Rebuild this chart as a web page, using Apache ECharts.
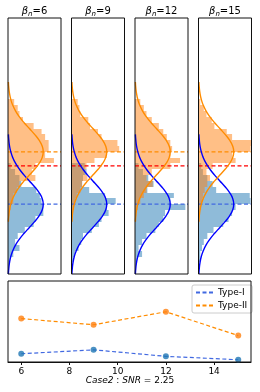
<!DOCTYPE html>
<html><head><meta charset="utf-8">
<script src="https://cdn.jsdelivr.net/npm/echarts@6/dist/echarts.min.js"></script>
<style>html,body{margin:0;padding:0;background:#fff}#c{width:260px;height:392px}</style>
</head><body><div id="c"></div>
<script>
// ---------- data ----------
const betaLabels = ['6', '9', '12', '15'];
// histogram bin edges (top to bottom), 29 bins
const binEdges = [4.5,4.25,4.0,3.75,3.5,3.25,3.0,2.75,2.5,2.25,2.0,1.75,1.5,1.25,1.0,0.75,0.5,0.25,0,-0.25,-0.5,-0.75,-1.0,-1.25,-1.5,-1.75,-2.0,-2.25,-2.5,-2.75];
// alternative (orange) histogram densities per panel
const orange6  = [0.07,0.11,0.13,0.17,0.29,0.38,0.42,0.46,0.46,0.42,0.52,0.31,0.27,0.31,0.13,0.10,0.06,0.06,0.03,0.015,0.01,0,0,0,0,0,0,0,0];
const orange9  = [0.07,0.09,0.10,0.19,0.21,0.30,0.34,0.52,0.54,0.40,0.26,0.17,0.15,0.18,0.12,0.10,0.06,0.04,0.03,0.015,0.01,0,0,0,0,0,0,0,0];
const orange12 = [0.06,0.10,0.13,0.19,0.27,0.32,0.36,0.40,0.42,0.40,0.51,0.40,0.19,0.13,0.20,0.13,0.10,0.06,0.03,0.015,0.01,0,0,0,0,0,0,0,0];
const orange15 = [0.02,0.06,0.09,0.15,0.18,0.32,0.38,0.60,0.59,0.38,0.42,0.16,0.09,0.13,0.10,0.07,0.05,0.04,0.03,0.015,0.01,0,0,0,0,0,0,0,0];
// null (blue) histogram densities per panel
const blue6  = [0,0,0,0,0,0,0,0,0,0,0,0.03,0.08,0.13,0.15,0.32,0.36,0.38,0.40,0.40,0.31,0.29,0.19,0.11,0.08,0.13,0.06,0.02,0.01];
const blue9  = [0,0,0,0,0,0,0,0,0,0,0,0.15,0.17,0.13,0.12,0.20,0.38,0.50,0.40,0.42,0.34,0.31,0.23,0.13,0.11,0.08,0.04,0.02,0.01];
const blue12 = [0,0,0,0,0,0,0,0,0,0,0,0.04,0.09,0.15,0.21,0.14,0.44,0.40,0.57,0.34,0.32,0.27,0.23,0.13,0.08,0.04,0.08,0.02,0.01];
const blue15 = [0,0,0,0,0,0,0,0,0,0,0,0.03,0.05,0.10,0.16,0.20,0.58,0.59,0.42,0.38,0.34,0.28,0.17,0.10,0.06,0.04,0.02,0.02,0.01];
// fitted density curve samples (offset from mean, density)
const curveZ = [-3,-2.75,-2.5,-2.25,-2,-1.75,-1.5,-1.25,-1,-0.75,-0.5,-0.25,0,0.25,0.5,0.75,1,1.25,1.5,1.75,2,2.25,2.5,2.75,3];
const curveDensity = [0.0044,0.0091,0.0175,0.0317,0.0540,0.0863,0.1295,0.1826,0.2420,0.3011,0.3521,0.3867,0.3989,0.3867,0.3521,0.3011,0.2420,0.1826,0.1295,0.0863,0.0540,0.0317,0.0175,0.0091,0.0044];
const nullMean = 0, altMean = 2.25, threshold = 1.65;
// bottom chart
const betas = [6, 9, 12, 15];
const typeI = [0.051, 0.075, 0.035, 0.014];
const typeII = [0.268, 0.23, 0.31, 0.163];
const xTicks = [6, 8, 10, 12, 14];

const orangeSets = [orange6, orange9, orange12, orange15];
const blueSets = [blue6, blue9, blue12, blue15];

// ---------- layout ----------
const panelLefts = [8, 71.5, 135, 198.5];
const panelW = 53, panelTop = 18, panelH = 256;
const XMAX = 0.6, YMIN = -3, YMAX = 8;

const chart = echarts.init(document.getElementById('c'), null, {renderer: 'canvas'});

function histData(vals) {
  const d = [];
  for (let i = 0; i < vals.length; i++) {
    if (vals[i] > 0) d.push([binEdges[i + 1], binEdges[i], vals[i]]);
  }
  return d;
}
function makeRender(color) {
  return function (params, api) {
    const lo = api.value(0), hi = api.value(1), w = api.value(2);
    const p0 = api.coord([0, hi]);
    const p1 = api.coord([w, lo]);
    const cs = params.coordSys;
    const right = Math.min(p1[0], cs.x + cs.width);
    const top = Math.round(p0[1]), bottom = Math.round(p1[1]);
    return {
      type: 'rect',
      shape: {x: p0[0], y: top, width: right - p0[0], height: bottom - top},
      style: {fill: color, opacity: 0.5}
    };
  };
}

const grids = [], xAxes = [], yAxes = [], series = [], graphics = [];
for (let k = 0; k < 4; k++) {
  grids.push({left: panelLefts[k], top: panelTop, width: panelW, height: panelH,
    show: true, borderColor: '#111', borderWidth: 1, backgroundColor: 'transparent', z: 10});
  xAxes.push({gridIndex: k, type: 'value', min: 0, max: XMAX, show: false});
  yAxes.push({gridIndex: k, type: 'value', min: YMIN, max: YMAX, show: false});
  series.push({type: 'custom', xAxisIndex: k, yAxisIndex: k, renderItem: makeRender('#1f77b4'),
    encode: {x: 2, y: [0, 1]}, data: histData(blueSets[k]), z: 2, silent: true});
  series.push({type: 'custom', xAxisIndex: k, yAxisIndex: k, renderItem: makeRender('#ff7f0e'),
    encode: {x: 2, y: [0, 1]}, data: histData(orangeSets[k]), z: 3, silent: true});
  const hl = (y, color) => ({type: 'line', xAxisIndex: k, yAxisIndex: k, data: [[0, y], [XMAX, y]],
    symbol: 'none', lineStyle: {color: color, width: 1.2, type: [4, 2.5]}, z: 4, silent: true, animation: false});
  series.push(hl(altMean, '#ff8c00'));
  series.push(hl(threshold, '#ff0000'));
  series.push(hl(nullMean, '#4169e1'));
  series.push({type: 'line', xAxisIndex: k, yAxisIndex: k, smooth: true, symbol: 'none',
    data: curveZ.map((z, i) => [curveDensity[i], nullMean + z]),
    lineStyle: {color: '#0000ff', width: 1.4}, z: 5, silent: true, animation: false});
  series.push({type: 'line', xAxisIndex: k, yAxisIndex: k, smooth: true, symbol: 'none',
    data: curveZ.map((z, i) => [curveDensity[i], altMean + z]),
    lineStyle: {color: '#ff8c00', width: 1.4}, z: 5, silent: true, animation: false});
  graphics.push({type: 'text', x: panelLefts[k] + panelW / 2, y: 11,
    style: {text: '{b|β}{n|n}{t|=' + betaLabels[k] + '}', align: 'center', verticalAlign: 'middle',
      rich: {
        b: {fontFamily: 'DejaVu Sans', fontStyle: 'italic', fontSize: 10, fill: '#000'},
        n: {fontFamily: 'DejaVu Sans', fontStyle: 'italic', fontSize: 7, fill: '#000', padding: [6, 0, 0, 0]},
        t: {fontFamily: 'DejaVu Sans', fontSize: 10, fill: '#000'}
      }}});
}

// bottom chart
grids.push({left: 8, top: 281, width: 243, height: 81, show: true, borderColor: '#111', borderWidth: 1,
  backgroundColor: 'transparent', z: 10});
xAxes.push({gridIndex: 4, type: 'value', min: 5.45, max: 15.53, splitLine: {show: false},
  axisLine: {show: true, lineStyle: {color: '#111'}},
  axisTick: {show: true, length: 3, customValues: xTicks, lineStyle: {color: '#111'}},
  axisLabel: {customValues: xTicks, fontFamily: 'DejaVu Sans', fontSize: 9, color: '#000', margin: 5}});
yAxes.push({gridIndex: 4, type: 'value', min: 0, max: 0.5, splitLine: {show: false},
  axisLine: {show: false}, axisTick: {show: false}, axisLabel: {show: false}});
series.push({name: 'Type-I', type: 'line', xAxisIndex: 4, yAxisIndex: 4, symbol: 'none',
  data: betas.map((b, i) => [b, typeI[i]]), itemStyle: {color: '#4169e1'},
  lineStyle: {color: '#4169e1', width: 1.2, type: [4, 2.5]}, z: 3, animation: false});
series.push({name: 'Type-II', type: 'line', xAxisIndex: 4, yAxisIndex: 4, symbol: 'none',
  data: betas.map((b, i) => [b, typeII[i]]), itemStyle: {color: '#ff8c00'},
  lineStyle: {color: '#ff8c00', width: 1.2, type: [4, 2.5]}, z: 3, animation: false});
series.push({type: 'scatter', xAxisIndex: 4, yAxisIndex: 4, symbolSize: 6,
  data: betas.map((b, i) => [b, typeI[i]]), itemStyle: {color: '#1f77b4'}, z: 4, animation: false});
series.push({type: 'scatter', xAxisIndex: 4, yAxisIndex: 4, symbolSize: 6,
  data: betas.map((b, i) => [b, typeII[i]]), itemStyle: {color: '#ff7f0e'}, z: 4, animation: false});

graphics.push({type: 'text', x: 130, y: 381,
  style: {text: '{i|Case2}{r| : }{i|SNR}{r| = 2.25}', align: 'center', verticalAlign: 'middle',
    rich: {
      i: {fontFamily: 'DejaVu Sans', fontStyle: 'italic', fontSize: 9, fill: '#000'},
      r: {fontFamily: 'DejaVu Sans', fontSize: 9, fill: '#000'}
    }}});

chart.setOption({
  animation: false,
  backgroundColor: '#ffffff',
  grid: grids,
  xAxis: xAxes,
  yAxis: yAxes,
  legend: {data: ['Type-I', 'Type-II'], orient: 'vertical', left: 192, top: 285,
    itemWidth: 17, itemHeight: 8, itemGap: 4, padding: [3, 5, 3, 3],
    itemStyle: {opacity: 0}, lineStyle: {opacity: 1},
    borderColor: '#cccccc', borderWidth: 1, borderRadius: 2, backgroundColor: '#fff',
    textStyle: {fontFamily: 'DejaVu Sans', fontSize: 9, color: '#000'}},
  graphic: graphics,
  series: series
});
</script></body></html>
